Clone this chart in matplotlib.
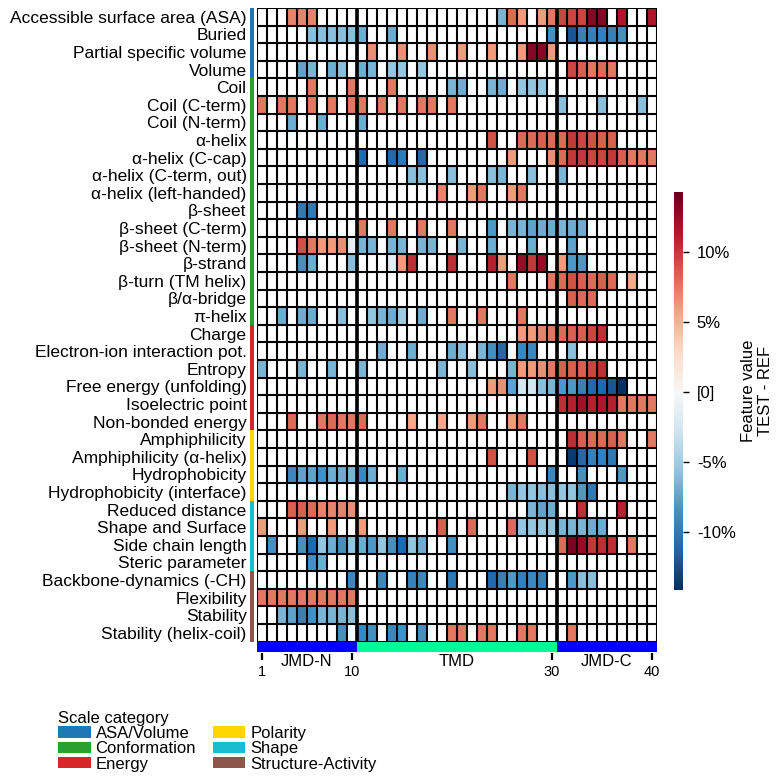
import numpy as np
import matplotlib
matplotlib.use('Agg')
import matplotlib.pyplot as plt
from matplotlib.colors import LinearSegmentedColormap, Normalize
from matplotlib.patches import Rectangle, Patch

plt.rcParams['font.family'] = ['Liberation Sans', 'DejaVu Sans']

# ---------------- data ----------------
features = [
    "Accessible surface area (ASA)", "Buried", "Partial specific volume", "Volume",
    "Coil", "Coil (C-term)", "Coil (N-term)", "α-helix", "α-helix (C-cap)",
    "α-helix (C-term, out)", "α-helix (left-handed)", "β-sheet", "β-sheet (C-term)",
    "β-sheet (N-term)", "β-strand", "β-turn (TM helix)", "β/α-bridge", "π-helix",
    "Charge", "Electron-ion interaction pot.", "Entropy", "Free energy (unfolding)",
    "Isoelectric point", "Non-bonded energy", "Amphiphilicity", "Amphiphilicity (α-helix)",
    "Hydrophobicity", "Hydrophobicity (interface)", "Reduced distance", "Shape and Surface",
    "Side chain length", "Steric parameter", "Backbone-dynamics (-CH)", "Flexibility",
    "Stability", "Stability (helix-coil)",
]
category_names = ["ASA/Volume", "Conformation", "Energy", "Polarity", "Shape", "Structure-Activity"]
category_counts = [4, 14, 6, 4, 4, 4]
category_colors = ["#1f77b4", "#2ca02c", "#d62728", "#FFD700", "#17becf", "#8c564b"]

# feature value (TEST - REF, %) per residue position (1..40); missing = no feature
row_values = [
    {4: 7, 5: 7, 6: 7, 25: -6.5, 26: 8, 27: 6, 29: 6, 30: 7.5, 31: 9.5, 32: 9.5, 33: 9.5, 34: 13, 35: 13, 37: 11.5, 40: 11.5},
    {6: -6, 7: -6, 8: -6, 9: -6, 10: -6, 11: -7, 14: -7, 30: -8.5, 32: -12, 33: -9.5, 34: -9.5, 35: -9.5, 36: -9.5, 37: -8.5},
    {12: 6.5, 15: 6.5, 18: 6.5, 21: 6, 24: 6, 27: 6, 28: 13, 29: 13, 30: 6},
    {5: -7.5, 6: -6.5, 8: -7, 9: -6, 11: -7, 12: -6.5, 14: -5.5, 15: -5.5, 17: -5.5, 32: 9.5, 33: 8.5, 34: 7.5, 35: 8, 36: 7.5},
    {6: 7.5, 10: 7.5, 14: 7.5, 20: -6.5, 21: -7, 24: -6.5, 25: -7, 27: -5.5, 28: -5.5, 29: -5.5},
    {1: 7.5, 3: 7.5, 4: 7.5, 6: 7.5, 8: 7.5, 10: 7.5, 11: 7.5, 13: 7.5, 15: 7.5, 17: 7.5, 18: 7.5, 20: 7.5, 31: -6, 35: -6, 39: -6},
    {4: -7, 7: -7, 11: -7},
    {24: 9, 27: 8, 28: 8, 29: 8.5, 30: 8, 31: 8, 32: 10, 33: 9.5, 34: 9, 35: 8.5, 36: 8.5},
    {11: -11, 14: -11, 15: -10, 17: -11, 26: 6, 30: 6.5, 31: 8, 32: 10, 33: 10, 34: 9.5, 35: 9.5, 36: 10, 37: 8.5, 38: 7.5, 39: 7.5, 40: 7.5},
    {16: -6, 17: -6, 20: -6, 24: -6, 25: -6.5, 28: -6, 31: -6.5},
    {19: 7, 22: 6, 23: 7.5, 26: 6, 27: 7.5},
    {5: -10, 6: -10},
    {11: 7.5, 14: 7.5, 17: 7.5, 20: 7.5, 24: -8, 26: -6.5, 27: -6.5, 28: -7.5, 29: -7, 30: -7, 31: -6.5, 32: -7, 33: -7},
    {5: 9, 6: 7.5, 7: 6, 8: 6, 9: 6.5, 10: -1.5, 11: -6.5, 12: -6.5, 14: -6.5, 15: -6.5, 17: -6.5, 18: -6.5, 21: -6.5, 24: -7, 28: -7, 32: -7.5},
    {5: -8.5, 6: -7, 10: -6, 14: -1.5, 15: 6, 16: 10.5, 20: 10.5, 24: 11, 25: 6, 27: 12.5, 28: 10, 29: 12.5, 31: 6, 32: -8, 33: -8},
    {26: 7.5, 30: 7.5, 31: 8, 32: 9, 33: 8.5, 34: 8, 35: 8.5, 36: 8, 38: 5.5},
    {32: 8.5, 33: 8, 34: 8},
    {3: -7, 5: -7, 6: -7, 9: -6, 12: -5.5, 13: -6.5, 14: -7, 15: -5, 17: -7, 20: 7.5, 23: 7.5, 27: 7.5},
    {27: 6, 28: 6, 29: 7, 30: 7.5, 31: 8, 32: 8.5, 33: 8.5, 34: 9.5, 35: 10.5},
    {13: -7, 16: -7, 20: -7, 21: -6, 23: -6.5, 24: -8.5, 25: -11, 27: -9, 28: -9, 32: -6},
    {1: -6.5, 5: -6.5, 8: -6.5, 11: -6.5, 19: -6.5, 22: -6, 26: -6.5, 27: 6, 28: 6, 29: 6.5, 30: 7.5, 31: 8.5, 32: 8.5, 33: 8.5, 34: 9.5, 35: 10.5},
    {24: 6, 25: 6.5, 26: -7.5, 27: -2.5, 28: -2.5, 29: -6, 30: -6.5, 31: -8, 32: -8, 33: -9.5, 34: -11, 35: -11, 36: -12, 37: -14},
    {31: 10.5, 32: 11, 33: 12, 34: 11, 35: 11.5, 36: 11, 37: 7.5, 38: 7.5, 39: 7.5, 40: 7.5},
    {4: 8, 7: 7.5, 8: 8, 9: 7.5, 10: 7.5, 11: 8, 16: 5.5, 19: 5.5, 22: 6, 23: 7.5, 26: 6, 27: 7.5},
    {32: 10.5, 33: 8.5, 34: 8, 35: 8, 36: 8.5, 37: 7.5, 40: 7.5},
    {24: 9, 28: 9, 32: -13.5, 33: -11, 34: -9.5, 35: -9.5, 36: -10},
    {4: -9, 5: -7.5, 6: -7.5, 7: -8.5, 8: -7, 9: -7, 10: -6.5, 11: -9, 12: -7, 15: -7, 30: -9, 33: -8.5, 37: -8},
    {26: -6.5, 27: -5.5, 28: -5.5, 29: -6, 30: -6, 31: -5.5, 32: -5.5, 33: -8, 34: -10},
    {4: 8.5, 5: 8.5, 6: 8, 7: 7, 8: 7, 9: 7, 10: 6.5, 28: -6.5, 29: -7.5, 30: -7, 33: 10.5, 37: 11},
    {1: 6, 5: 6, 8: 6, 11: 6, 19: 8.5, 22: 8, 26: 8, 27: -5.5, 28: -5.5, 29: -5.5, 30: -5.5, 31: -6.5, 32: -6.5, 33: -6.5, 34: -7, 35: -7},
    {2: -8.5, 5: -8.5, 6: -11, 7: -5.5, 8: -7, 9: -8.5, 10: -5.5, 11: -7, 12: -8, 13: -5.5, 14: -8.5, 15: -11, 16: -5.5, 17: -7, 20: -8.5,
     31: 8, 32: 13.5, 33: 12.5, 34: 10, 35: 10.5, 36: 10.5, 38: 7.5},
    {6: -8.5, 7: -7},
    {10: -9, 13: -9, 16: -9.5, 17: -9, 20: -10, 24: -11, 25: -9.5, 26: -8, 27: -9.5, 28: -9, 29: -9.5, 32: -8, 33: -6, 34: -6},
    {1: 7.5, 2: 7.5, 3: 7.5, 4: 7.5, 5: 7.5, 6: 7.5, 7: 7.5, 8: 7.5, 9: 7.5, 10: 7.5},
    {3: -6.5, 4: -7.5, 5: -9.5, 6: -8.5, 7: -6.5, 8: -6.5, 9: -6.5, 10: -6},
    {9: -8.5, 11: -9, 12: -8.5, 14: -9, 15: -8.5, 17: -8.5, 20: 7.5, 21: 7.5, 23: 7.5, 24: 7.5, 27: 7.5, 28: 7.5, 32: 7.5},
]
n_pos = 40
segments = ["JMD-N", "TMD", "JMD-C"]
segment_ranges = [(1, 10), (11, 30), (31, 40)]
segment_colors = ["#0000ff", "#00fa9a", "#0000ff"]
pos_ticks = [1, 10, 30, 40]
cbar_ticks = [10, 5, 0, -5, -10]
cbar_ticklabels = ["10%", "5%", "[0]", "-5%", "-10%"]
vmin, vmax = -14.1, 14.3

# ---------------- figure ----------------
W = H = 782
def fx(px): return px / W
def fy(py): return 1 - py / H

fig = plt.figure(figsize=(W / 100, H / 100), dpi=100)
top_px, bot_px = 8, 641.6
ax = fig.add_axes([fx(257), fy(bot_px), fx(657) - fx(257), fy(top_px) - fy(bot_px)])

n_rows = len(features)
M = np.full((n_rows, n_pos), np.nan)
for i, d in enumerate(row_values):
    for p, v in d.items():
        M[i, p - 1] = v

# colormap: RdBu_r with white at zero, blues over [vmin,0], reds over [0,vmax]
base = plt.get_cmap('RdBu_r')
p0 = -vmin / (vmax - vmin)
ts = np.linspace(0, 1, 512)
cols = [base(0.5 * t / p0) if t < p0 else base(0.5 + 0.5 * (t - p0) / (1 - p0)) for t in ts]
cmap = LinearSegmentedColormap.from_list('cpp', list(zip(ts, cols)))
cmap.set_bad('white')
norm = Normalize(vmin=vmin, vmax=vmax)

xe = np.arange(0.5, n_pos + 1)
ye = np.arange(0.5, n_rows + 1)
ax.pcolormesh(xe, ye, np.ma.masked_invalid(M), cmap=cmap, norm=norm)
ax.hlines(ye, 0.5, n_pos + 0.5, color='k', lw=1.5, zorder=3)
ax.vlines(xe, 0.5, n_rows + 0.5, color='k', lw=1.5, zorder=3)
for b in [10.5, 30.5]:
    ax.vlines(b, 0.5, n_rows + 0.5, color='k', lw=2.6, zorder=4)
ax.set_xlim(0.5, n_pos + 0.5)
ax.set_ylim(n_rows + 0.5, 0.5)
for s in ax.spines.values():
    s.set_visible(False)
ax.set_xticks([])
ax.set_yticks(np.arange(1, n_rows + 1))
ax.set_yticklabels(features, fontsize=12.5)
ax.tick_params(axis='y', length=0, pad=7.5)

# category strip
row = 0.5
for c, n in zip(category_colors, category_counts):
    ax.add_patch(Rectangle((-0.2, row), 0.4, n, color=c, clip_on=False, lw=0))
    row += n

# segment bar
rowpx = (bot_px - top_px) / n_rows
def ry(px_below):
    return n_rows + 0.5 + px_below / rowpx
for name, (a, b), c in zip(segments, segment_ranges, segment_colors):
    ax.add_patch(Rectangle((a - 0.5, ry(0)), b - a + 1, ry(10.2) - ry(0), color=c, clip_on=False, lw=0))
    ax.text((a + b) / 2, ry(19.5), name, ha='center', va='center', fontsize=12)
for t in pos_ticks:
    ax.plot([t, t], [ry(11.5), ry(18)], color='k', lw=1.6, clip_on=False, solid_capstyle='butt')
    ax.text(t, ry(30.5), str(t), ha='center', va='center', fontsize=10.5)

# colorbar
cb_top, cb_bot = 191.7, 590
cax = fig.add_axes([fx(674), fy(cb_bot), fx(683) - fx(674), fy(cb_top) - fy(cb_bot)])
sm = matplotlib.cm.ScalarMappable(norm=norm, cmap=cmap)
cb = fig.colorbar(sm, cax=cax)
cb.outline.set_visible(False)
cb.set_ticks(cbar_ticks)
cb.set_ticklabels(cbar_ticklabels)
cax.tick_params(labelsize=12, length=4, width=1, pad=6)
fig.text(fx(757), fy(391), "Feature value\nTEST - REF", rotation=90, ha='center', va='center',
         fontsize=12, multialignment='center')

# legend
handles = [Patch(facecolor=c, edgecolor='none', label=n) for n, c in zip(category_names, category_colors)]
leg = fig.legend(handles=handles, ncol=2, loc='upper left', bbox_to_anchor=(fx(58), fy(710.5)),
                 frameon=False, fontsize=12, title="Scale category", title_fontsize=12,
                 handlelength=1.95, handleheight=0.65, handletextpad=0.3, labelspacing=0.02,
                 columnspacing=1.0, borderpad=0, borderaxespad=0)
leg._legend_box.align = "left"

fig.savefig('out.png', dpi=100)
